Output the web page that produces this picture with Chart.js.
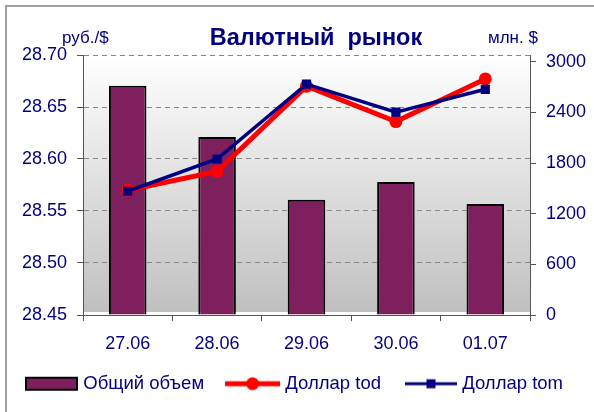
<!DOCTYPE html>
<html>
<head>
<meta charset="utf-8">
<script src="https://cdn.jsdelivr.net/npm/chart.js@4.4.0/dist/chart.umd.min.js"></script>
<style>
  body { margin: 0; background: #fff; }
  canvas { display: block; }
</style>
</head>
<body>
<canvas id="myChart" width="594" height="412"></canvas>
<script>
var dates = ["27.06", "28.06", "29.06", "30.06", "01.07"];
var volume = [2715, 2110, 1365, 1575, 1315];
var dollarTod = [28.570, 28.588, 28.670, 28.636, 28.677];
var dollarTom = [28.569, 28.600, 28.672, 28.645, 28.667];
var leftTicks = [28.45, 28.50, 28.55, 28.60, 28.65, 28.70];
var rightTicks = [0, 600, 1200, 1800, 2400, 3000];
var rightMax = 3080; // right axis top sits a little above the 3000 tick

var navy = "#000080";
var plum = "#7e1f5e";
var fontName = "'Liberation Sans', Arial, sans-serif";

// legend symbols drawn on small canvases, symbol on the right side
var boxW = 62;
function legendImage(kind) {
  var c = document.createElement("canvas");
  c.width = boxW + 8;
  c.height = 16;
  var g = c.getContext("2d");
  var r = c.width;
  if (kind === "bar") {
    g.fillStyle = plum;
    g.fillRect(r - 53, 1, 53, 14);
    g.strokeStyle = "#000";
    g.lineWidth = 2;
    g.strokeRect(r - 52, 2, 51, 12);
  } else if (kind === "tod") {
    g.strokeStyle = "red";
    g.lineWidth = 5;
    g.beginPath();
    g.moveTo(r - 55, 8);
    g.lineTo(r, 8);
    g.stroke();
    g.fillStyle = "red";
    g.beginPath();
    g.arc(r - 27.5, 8, 6.5, 0, Math.PI * 2);
    g.fill();
  } else {
    g.strokeStyle = navy;
    g.lineWidth = 3;
    g.beginPath();
    g.moveTo(r - 52, 8);
    g.lineTo(r, 8);
    g.stroke();
    g.fillStyle = navy;
    g.fillRect(r - 30.5, 3.5, 9, 9);
  }
  return c;
}
var legendImgs = [legendImage("bar"), legendImage("tod"), legendImage("tom")];

var frame = {
  id: "frame",
  beforeDraw: function (chart) {
    var ctx = chart.ctx;
    var a = chart.chartArea;
    ctx.save();
    ctx.fillStyle = "#fff";
    ctx.fillRect(0, 0, chart.width, chart.height);
    // outer border (left and top visible)
    ctx.strokeStyle = "#a0a0a0";
    ctx.lineWidth = 2;
    ctx.beginPath();
    ctx.moveTo(6, chart.height);
    ctx.lineTo(6, 6);
    ctx.lineTo(chart.width, 6);
    ctx.stroke();
    // plot area gradient
    var grad = ctx.createLinearGradient(0, a.top, 0, a.bottom);
    grad.addColorStop(0, "#ffffff");
    grad.addColorStop(1, "#bfbfbf");
    ctx.fillStyle = grad;
    ctx.fillRect(a.left, a.top, a.right - a.left, a.bottom - a.top - 3);
    ctx.restore();
  },
  afterDraw: function (chart) {
    var ctx = chart.ctx;
    ctx.save();
    ctx.fillStyle = navy;
    ctx.textBaseline = "alphabetic";
    ctx.textAlign = "center";
    ctx.font = "bold 23.5px " + fontName;
    ctx.fillText("Валютный  рынок", 316, 45);
    ctx.font = "17px " + fontName;
    ctx.textAlign = "left";
    ctx.fillText("руб./$", 62, 43);
    ctx.fillText("млн. $", 488, 43);
    ctx.restore();
  }
};

var ctx = document.getElementById("myChart").getContext("2d");
var myChart = new Chart(ctx, {
  plugins: [frame],
  data: {
    labels: dates,
    datasets: [
      {
        type: "bar",
        label: "Общий объем",
        data: volume,
        yAxisID: "y1",
        backgroundColor: plum,
        borderColor: "#000",
        borderWidth: 2,
        categoryPercentage: 1,
        barPercentage: 0.42,
        order: 3
      },
      {
        type: "line",
        label: "Доллар tod",
        data: dollarTod,
        yAxisID: "y",
        borderColor: "red",
        backgroundColor: "red",
        borderWidth: 5,
        pointStyle: "circle",
        pointRadius: 6.5,
        pointBorderWidth: 0,
        tension: 0,
        order: 2
      },
      {
        type: "line",
        label: "Доллар tom",
        data: dollarTom,
        yAxisID: "y",
        borderColor: navy,
        backgroundColor: navy,
        borderWidth: 3.5,
        pointStyle: "rect",
        pointRadius: 6.5,
        pointBorderWidth: 0,
        tension: 0,
        order: 1
      }
    ]
  },
  options: {
    responsive: false,
    animation: false,
    layout: { padding: { top: 55, left: 2, right: 0, bottom: 9 } },
    plugins: {
      tooltip: { enabled: false },
      legend: {
        position: "bottom",
        align: "start",
        labels: {
          usePointStyle: true,
          pointStyleWidth: boxW,
          padding: 10,
          color: navy,
          font: { family: fontName, size: 18.5 },
          generateLabels: function (chart) {
            return chart.data.datasets.map(function (ds, i) {
              return {
                text: ds.label,
                pointStyle: legendImgs[i],
                fillStyle: "transparent",
                strokeStyle: "transparent",
                lineWidth: 0,
                fontColor: navy,
                datasetIndex: i,
                hidden: false
              };
            });
          }
        }
      }
    },
    scales: {
      x: {
        offset: true,
        afterFit: function (s) { s.height = 49.5; },
        grid: { offset: true, drawOnChartArea: false, tickLength: 6, color: "#555" },
        border: { color: "#555" },
        ticks: { color: navy, padding: 12, font: { family: fontName, size: 18 } }
      },
      y: {
        position: "left",
        min: leftTicks[0],
        max: leftTicks[leftTicks.length - 1],
        afterFit: function (s) { s.width = 81; },
        afterBuildTicks: function (s) {
          s.ticks = leftTicks.map(function (v) { return { value: v }; });
        },
        grid: {
          color: "#888",
          tickLength: 6,
          tickColor: "#555",
          tickBorderDash: []
        },
        border: { color: "#555", dash: [5, 4] },
        ticks: {
          color: navy,
          padding: 10,
          font: { family: fontName, size: 18 },
          callback: function (v) { return Number(v).toFixed(2); }
        }
      },
      y1: {
        position: "right",
        min: rightTicks[0],
        max: rightMax,
        afterFit: function (s) { s.width = 64; },
        afterBuildTicks: function (s) {
          s.ticks = rightTicks.map(function (v) { return { value: v }; });
        },
        grid: { drawOnChartArea: false, tickLength: 6, color: "#555" },
        border: { color: "#555" },
        ticks: {
          color: navy,
          padding: 10,
          font: { family: fontName, size: 18 },
          callback: function (v) { return String(v); }
        }
      }
    }
  }
});
</script>
</body>
</html>
